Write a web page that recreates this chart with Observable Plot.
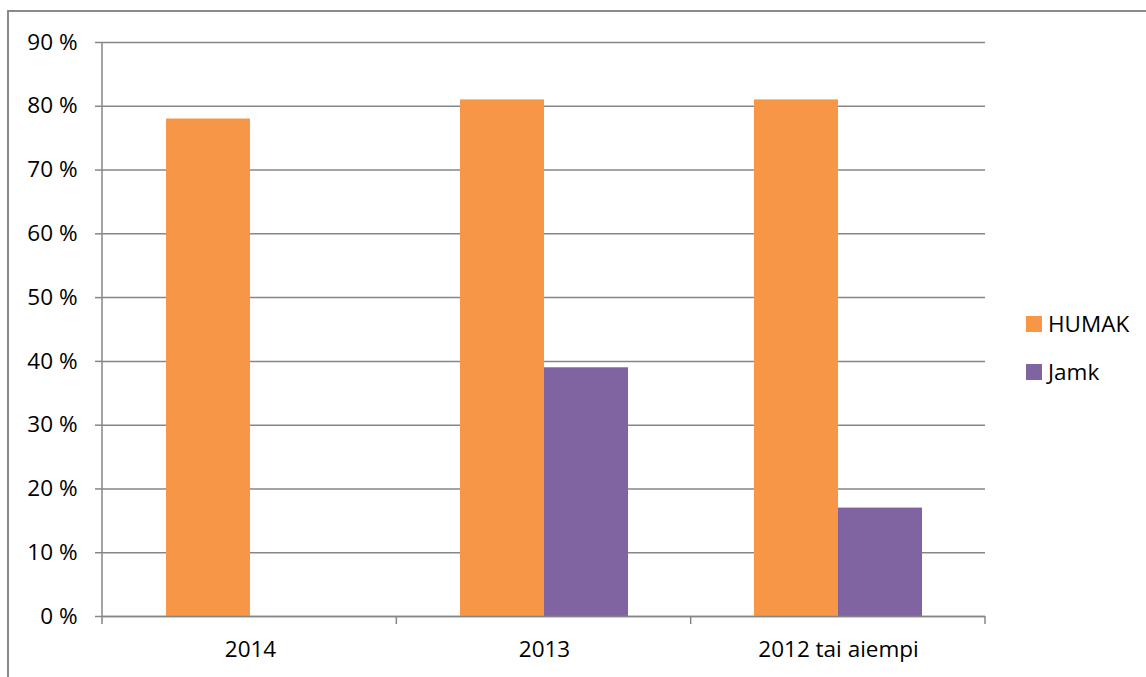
<!DOCTYPE html>
<html>
<head>
<meta charset="utf-8">
<script src="https://cdn.jsdelivr.net/npm/d3@7"></script>
<script src="https://cdn.jsdelivr.net/npm/@observablehq/plot@0.6"></script>
<style>
  body { margin: 0; background: #fff; font-family: "Open Sans", sans-serif; }
  #wrap { position: relative; width: 1146px; height: 677px; overflow: hidden; background: #fff; }
  #frame { position: absolute; left: 7px; top: 10px; width: 1300px; height: 800px;
           border-top: 2px solid #8a8a8a; border-left: 2px solid #8a8a8a; }
  #chart { position: absolute; left: 0; top: 0; }
  #legend { position: absolute; left: 1026px; top: 309px; font-size: 22.5px; color: #000; line-height: 30px; }
  #legend .item { display: flex; align-items: center; height: 30px; margin-bottom: 18px; }
  #legend .sw { width: 16px; height: 16px; margin-right: 6px; }
</style>
</head>
<body>
<div id="wrap">
  <div id="frame"></div>
  <div id="chart"></div>
  <div id="legend"></div>
</div>
<script>
const categories = ["2014", "2013", "2012 tai aiempi"];
const seriesNames = ["HUMAK", "Jamk"];
const humakValues = [78, 81, 81];
const jamkValues = [0, 39, 17];
const yTicks = [0, 10, 20, 30, 40, 50, 60, 70, 80, 90];
const seriesColors = ["#F79646", "#8064A2"];

const data = categories.flatMap((c, i) => [
  {category: c, series: "HUMAK", value: humakValues[i]},
  {category: c, series: "Jamk", value: jamkValues[i]}
]);

const gray = "#868686";

const chart = Plot.plot({
  width: 1146,
  height: 677,
  marginLeft: 102,
  marginRight: 161,
  marginTop: 42,
  marginBottom: 61,
  style: {fontFamily: "Open Sans, sans-serif", fontSize: "22.5px", color: "#000", background: "transparent", overflow: "visible"},
  fx: {domain: categories, padding: 0, label: null},
  x: {domain: seriesNames, paddingInner: 0, paddingOuter: 0.75, axis: null},
  y: {domain: [0, 90], label: null},
  color: {domain: seriesNames, range: seriesColors},
  marks: [
    Plot.gridY(yTicks, {stroke: gray, strokeOpacity: 1, strokeWidth: 1.5}),
    Plot.barY(data, {fx: "category", x: "series", y: "value", fill: "series"}),
    Plot.axisY(yTicks, {tickSize: 8, tickPadding: 18, tickFormat: d => `${d} %`, stroke: gray, strokeWidth: 1.5, fill: "#000", label: null}),
    Plot.axisFx({anchor: "bottom", tickSize: 0, tickPadding: 25, label: null, fill: "#000"}),
    Plot.ruleY([0], {stroke: gray, strokeWidth: 1.5})
  ]
});

document.getElementById("chart").appendChild(chart);

// axis line and category boundary ticks derived from Plot's scales
const fxs = chart.scale("fx");
const ys = chart.scale("y");
const band = d3.scaleBand()
  .domain(fxs.domain)
  .range(fxs.range)
  .paddingInner(fxs.paddingInner ?? 0)
  .paddingOuter(fxs.paddingOuter ?? 0)
  .align(fxs.align ?? 0.5);
const bounds = fxs.domain.map(d => band(d));
bounds.push(band(fxs.domain[fxs.domain.length - 1]) + band.bandwidth());
const yBottom = Math.max(...ys.range), yTop = Math.min(...ys.range);
const svg = d3.select(chart);
const g = svg.append("g").attr("stroke", gray).attr("stroke-width", 1.5);
g.append("line").attr("x1", bounds[0]).attr("x2", bounds[0]).attr("y1", yTop).attr("y2", yBottom);
bounds.forEach(b => {
  g.append("line").attr("x1", b).attr("x2", b).attr("y1", yBottom).attr("y2", yBottom + 8);
});

// legend
const legend = document.getElementById("legend");
seriesNames.forEach((s, i) => {
  const item = document.createElement("div");
  item.className = "item";
  const sw = document.createElement("span");
  sw.className = "sw";
  sw.style.background = seriesColors[i];
  const t = document.createElement("span");
  t.textContent = s;
  item.appendChild(sw);
  item.appendChild(t);
  legend.appendChild(item);
});
</script>
</body>
</html>
